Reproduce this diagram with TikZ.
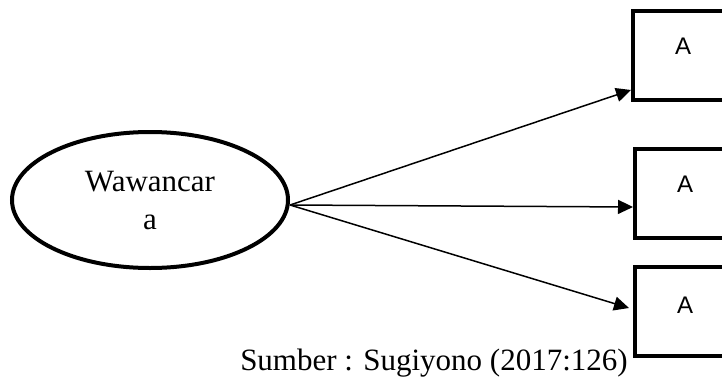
\documentclass[tikz,border=0pt]{standalone}
\usepackage{fontspec}
\setmainfont{Liberation Serif}
\newfontfamily\labelfont{Liberation Sans}
\usetikzlibrary{shapes.geometric,arrows.meta}
\begin{document}
\begin{tikzpicture}[x=1pt,y=-1pt,
  source/.style={ellipse,draw,line width=4pt,minimum width=276pt,minimum height=136pt,
    inner sep=0pt,align=center,font=\fontsize{31}{38}\selectfont},
  itembox/.style={draw,line width=4pt,minimum width=100pt,minimum height=89pt,inner sep=0pt},
  itemtext/.style={font=\labelfont\fontsize{24}{28}\selectfont,inner sep=0pt},
  link/.style={line width=1.5pt,-{Triangle[length=15pt,width=14pt]}}]
\useasboundingbox (0,0) rectangle (722,380);
\clip (0,0) rectangle (722,380);

% interviewer ellipse
\node[source] (src) at (150,200) {Wawancar\\a};

% answer boxes, running off the right edge
\node[itembox] (b1) at (683,55) {};
\node[itembox] (b2) at (685,193) {};
\node[itembox] (b3) at (685,311) {};
\node[itemtext] (t1) at (683,46) {A};
\node[itemtext] (t2) at (685,184) {A};
\node[itemtext] (t3) at (685,305) {A};

% connectors from the ellipse to each box
\coordinate (s) at ([yshift=-5pt]src.east);
\draw[link] (s) -- ([yshift=-35pt]b1.west);
\draw[link] (s) -- ([yshift=-14pt]b2.west);
\draw[link] (s) -- ([yshift=3pt,xshift=-4pt]b3.west);

% source note
\node[anchor=base,font=\fontsize{31}{38}\selectfont,inner sep=0pt] (cap) at (434,370) {Sumber : Sugiyono (2017:126)};
\end{tikzpicture}
\end{document}
